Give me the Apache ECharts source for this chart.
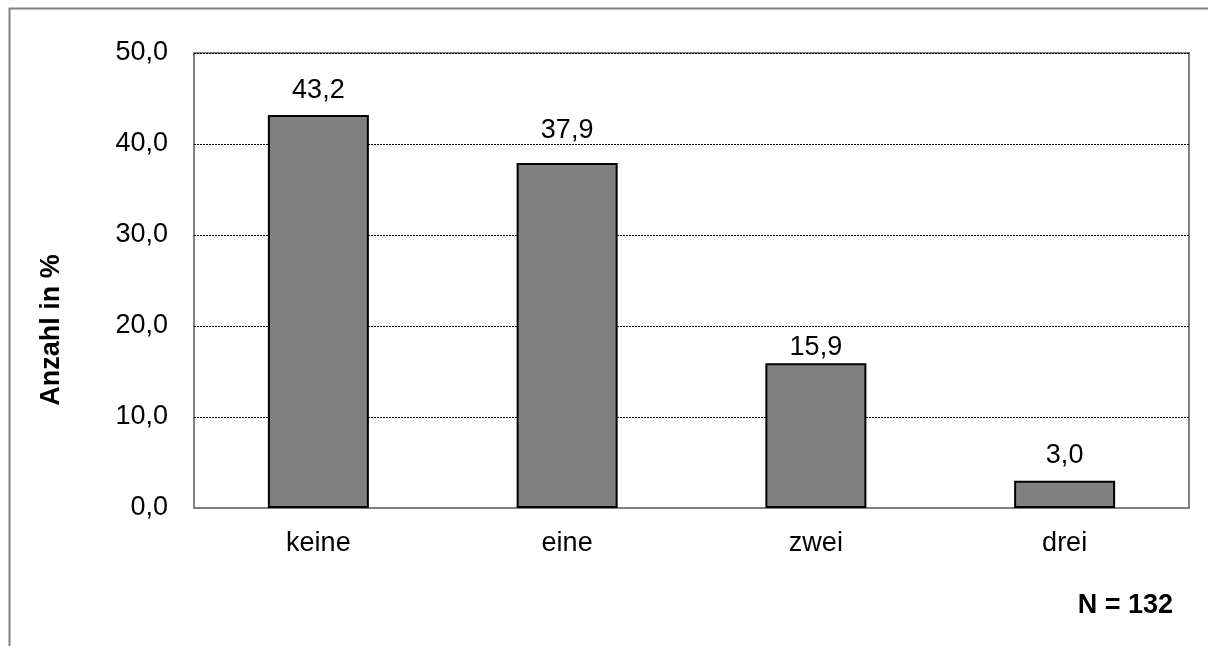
<!DOCTYPE html>
<html>
<head>
<meta charset="utf-8">
<script src="https://cdn.jsdelivr.net/npm/echarts@6/dist/echarts.min.js"></script>
<style>
html,body{margin:0;padding:0;background:#fff;}
#chart{width:1208px;height:646px;}
</style>
</head>
<body>
<div id="chart"></div>
<script>
const categories = ['keine', 'eine', 'zwei', 'drei'];
const values = [43.2, 37.9, 15.9, 3.0];
const yTicks = [0, 10, 20, 30, 40, 50];
const yAxisTitle = 'Anzahl in %';
const noteText = 'N = 132';

// label offsets (style only), matching the placement in the reference
const labelGaps = [11, 19, 2, 12];

const fmt = v => Number(v).toFixed(1).replace('.', ',');
const FONT = 'Liberation Sans, Arial, sans-serif';

const chart = echarts.init(document.getElementById('chart'));
chart.setOption({
  animation: false,
  backgroundColor: '#fff',
  grid: {
    left: 194, top: 53, right: 19, bottom: 138,
    show: true, borderColor: '#808080', borderWidth: 2, backgroundColor: 'transparent'
  },
  xAxis: {
    type: 'category',
    data: categories,
    axisLine: { show: true, lineStyle: { color: '#808080', width: 2 } },
    axisTick: { show: false },
    axisLabel: { color: '#000', fontSize: 27, fontFamily: FONT, margin: 22 }
  },
  yAxis: {
    type: 'value',
    min: yTicks[0], max: yTicks[yTicks.length - 1], interval: 10,
    axisLine: { show: false },
    axisTick: { show: false },
    axisLabel: { color: '#000', fontSize: 27, fontFamily: FONT, margin: 26, formatter: fmt },
    splitLine: { show: true, lineStyle: { color: '#000', width: 1, type: [2, 1] } }
  },
  graphic: [
    { type: 'rect', left: 7, top: 6, shape: { width: 1400, height: 900 }, style: { fill: 'none', stroke: '#808080', lineWidth: 2 }, z: -10 },
    { type: 'text', x: 52, y: 330, rotation: Math.PI / 2,
      style: { text: yAxisTitle, font: 'bold 27px ' + FONT, fill: '#000', textAlign: 'center', textVerticalAlign: 'middle' } },
    { type: 'text', x: 1173, y: 606,
      style: { text: noteText, font: 'bold 27px ' + FONT, fill: '#000', textAlign: 'right', textVerticalAlign: 'middle' } }
  ],
  series: [{
    type: 'bar',
    data: values.map((v, i) => ({ value: v, label: { distance: labelGaps[i] } })),
    barWidth: '40.6%',
    itemStyle: { color: '#808080', borderColor: '#000', borderWidth: 2 },
    label: { show: true, position: 'top', color: '#000', fontSize: 27, fontFamily: FONT, formatter: p => fmt(p.value) }
  }]
});
</script>
</body>
</html>
